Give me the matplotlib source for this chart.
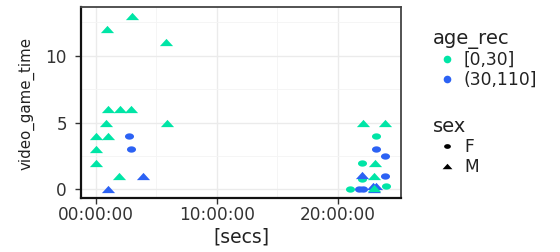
import matplotlib
matplotlib.use("Agg")
import matplotlib.pyplot as plt
from matplotlib.lines import Line2D
from matplotlib.ticker import FixedLocator, FuncFormatter
import numpy as np

# ---- data ----
hours = [3.0, 0.96, 5.83, 1.04, 2.0, 2.96, 0.88, 5.9, 0.0, 1.04, 2.74, 0.0, 2.96, 0.0, 1.9, 3.9, 1.0,
         22.05, 23.9, 23.15, 23.1, 23.85, 22.0, 23.07, 22.0, 22.0, 23.0, 23.9, 24.0,
         21.0, 21.75, 22.1, 22.85, 23.15, 23.0, 23.0]
video_game_time = [13, 12, 11, 6, 6, 6, 5, 5, 4, 4, 4, 3, 3, 2, 1, 1, 0,
                   5, 5, 4, 3, 2.5, 2, 2, 0.75, 1.05, 1, 1, 0.27,
                   0, 0, 0, 0.25, 0.25, 0.05, 0.1]
age_rec = ["[0,30]", "[0,30]", "[0,30]", "[0,30]", "[0,30]", "[0,30]", "[0,30]", "[0,30]", "[0,30]",
           "[0,30]", "(30,110]", "[0,30]", "(30,110]", "[0,30]", "[0,30]", "(30,110]", "(30,110]",
           "[0,30]", "[0,30]", "[0,30]", "(30,110]", "(30,110]", "[0,30]", "[0,30]", "[0,30]",
           "(30,110]", "[0,30]", "(30,110]", "[0,30]",
           "[0,30]", "(30,110]", "(30,110]", "(30,110]", "(30,110]", "(30,110]", "[0,30]"]
sex = ["M", "M", "M", "M", "M", "M", "M", "M", "M", "M", "F", "M", "F", "M", "M", "M", "M",
       "M", "M", "F", "F", "F", "F", "M", "F", "M", "M", "F", "F",
       "F", "F", "F", "M", "M", "M", "M"]

age_levels = ["[0,30]", "(30,110]"]
sex_levels = ["F", "M"]
age_colors = {"[0,30]": "#00E5A6", "(30,110]": "#2C62F4"}

# flattened markers (reference is horizontally stretched)
tri = [(-1.0, -0.55), (1.0, -0.55), (0.0, 0.55), (-1.0, -0.55)]
th = np.linspace(0, 2 * np.pi, 40)
ell = list(zip(np.cos(th), 0.7 * np.sin(th)))
sex_markers = {"F": ell, "M": tri}
sex_sizes = {"F": 6.5, "M": 9.5}

W, H = 560, 252
fig = plt.figure(figsize=(W / 100, H / 100), dpi=100)
ax = fig.add_axes([81 / W, 1 - 198 / H, (401 - 81) / W, (198 - 7) / H])

secs = np.array(hours) * 3600.0
for x, y, a, s in zip(secs, video_game_time, age_rec, sex):
    ax.plot([x], [y], linestyle="none", marker=sex_markers[s], markersize=sex_sizes[s],
            color=age_colors[a], markeredgewidth=0, zorder=3)

xmin, xmax = 0.0, 24.0 * 3600
pad = 0.05 * (xmax - xmin)
ax.set_xlim(xmin - pad, xmax + pad)
ax.set_ylim(-0.65, 13.65)

ax.xaxis.set_major_locator(FixedLocator([0, 36000, 72000]))
ax.xaxis.set_minor_locator(FixedLocator([18000, 54000]))
ax.yaxis.set_major_locator(FixedLocator([0, 5, 10]))
ax.yaxis.set_minor_locator(FixedLocator([2.5, 7.5, 12.5]))
ax.xaxis.set_major_formatter(FuncFormatter(lambda v, p: "%02d:00:00" % int(round(v / 3600))))

ax.grid(True, which="major", color="#EBEBEB", linewidth=1.0, zorder=0)
ax.grid(True, which="minor", color="#F4F4F4", linewidth=0.6, zorder=0)
ax.set_axisbelow(True)

for side in ["top", "right"]:
    ax.spines[side].set_color("#444444")
    ax.spines[side].set_linewidth(1.3)
for side in ["left", "bottom"]:
    ax.spines[side].set_color("#111111")
    ax.spines[side].set_linewidth(1.6)

ax.tick_params(axis="both", which="major", length=4, width=1.0, color="#333333",
               labelsize=12.2, labelcolor="#333333")
ax.tick_params(axis="x", which="major", pad=2)
ax.tick_params(axis="y", which="major", pad=6)
ax.tick_params(axis="both", which="minor", length=0)
for lab in ax.get_xticklabels() + ax.get_yticklabels():
    lab.set_family("DejaVu Sans")

ax.set_xlabel("[secs]", fontsize=13.5, color="#222222", labelpad=2)
ax.set_ylabel("video_game_time", fontsize=10.8, color="#222222")
ax.yaxis.set_label_coords(-(81 - 26.5) / (401 - 81), (198 - 104) / (198 - 7),
                          transform=ax.transAxes)
ax.yaxis.label.set_verticalalignment("center")

# ---- legends ----
age_handles = [Line2D([], [], linestyle="none", marker="o", markersize=5.5,
                      color=age_colors[a], markeredgewidth=0) for a in age_levels]
common = dict(loc="upper left", frameon=False, fontsize=12.3, title_fontsize=14,
              handlelength=1.65, handletextpad=0.18, labelspacing=0.12,
              borderpad=0.3, alignment="left")
leg1 = fig.legend(age_handles, age_levels, title="age_rec",
                  bbox_to_anchor=(419 / W, 1 - 15 / H), **common)
sex_handles = [Line2D([], [], linestyle="none", marker=sex_markers[s], markersize=sex_sizes[s] * 0.75,
                      color="black", markeredgewidth=0) for s in sex_levels]
leg2 = fig.legend(sex_handles, sex_levels, title="sex",
                  bbox_to_anchor=(419 / W, 1 - 103.5 / H), **common)
for leg in (leg1, leg2):
    leg.get_title().set_color("#222222")
    for t in leg.get_texts():
        t.set_color("#222222")

fig.savefig("out.png", dpi=100, facecolor="white")
